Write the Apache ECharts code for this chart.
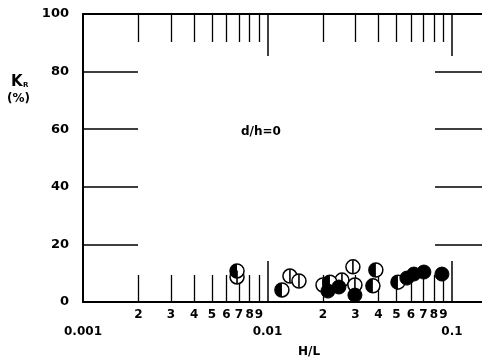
<!DOCTYPE html>
<html><head><meta charset="utf-8">
<script src="https://cdn.jsdelivr.net/npm/echarts@6/dist/echarts.min.js"></script>
<style>html,body{margin:0;padding:0;background:#fff}#c{width:482px;height:364px}</style>
</head><body><div id="c"></div>
<script>
// ---- data ----
const xMin = 0.001, xMax = 0.1456;
const xMajorTicks = [0.01, 0.1];
const xMajorLabels = [0.001, 0.01, 0.1];
const xMinorTicks = [0.002,0.003,0.004,0.005,0.006,0.007,0.008,0.009,0.02,0.03,0.04,0.05,0.06,0.07,0.08,0.09];
const yTicks = [0, 20, 40, 60, 80, 100];

// circles with a vertical bar
const openX = [0.00684, 0.01324, 0.01482, 0.0200, 0.02534, 0.02906, 0.0298];
const openY = [8.7, 9.0, 7.3, 5.9, 7.6, 12.2, 5.9];
// half-filled circles
const halfX = [0.00684, 0.01198, 0.02182, 0.0373, 0.0387, 0.0510];
const halfY = [10.8, 4.2, 6.9, 5.6, 11.1, 6.9];
// filled circles
const filledX = [0.02128, 0.0244, 0.0298, 0.0570, 0.0622, 0.0705, 0.0883];
const filledY = [3.8, 5.2, 2.4, 8.3, 9.7, 10.4, 9.7];

const zip = (a, b) => a.map((v, i) => [v, b[i]]);
const FONT = 'DejaVu Sans';
const lead = v => { const e = Math.floor(Math.log10(v) + 1e-9); return String(Math.round(v / Math.pow(10, e))); };

const baseX = (extra) => Object.assign({
  type: 'log', logBase: 10, min: xMin, max: xMax, gridIndex: 0,
  splitLine: { show: false }, minorTick: { show: false },
  axisLine: { show: false, onZero: false },
  axisLabel: { show: false },
  axisTick: { show: false }
}, extra);

const chart = echarts.init(document.getElementById('c'), null, { renderer: 'canvas' });
chart.setOption({
  backgroundColor: '#fff',
  animation: false,
  grid: { left: 83, right: 0, top: 14, bottom: 62, containLabel: false },
  xAxis: [
    baseX({ position: 'bottom',
      axisLine: { show: true, onZero: false, lineStyle: { color: '#000', width: 2 } },
      axisTick: { show: true, inside: true, length: 41, customValues: xMajorTicks, lineStyle: { color: '#000', width: 1.5 } },
      axisLabel: { show: true, customValues: xMajorLabels, margin: 24, color: '#000', fontFamily: FONT, fontWeight: 'bold', fontSize: 12,
        formatter: v => String(+(+v).toPrecision(3)) } }),
    baseX({ position: 'bottom',
      axisTick: { show: true, inside: true, length: 27, customValues: xMinorTicks, lineStyle: { color: '#000', width: 1.3 } },
      axisLabel: { show: true, customValues: xMinorTicks, margin: 7, color: '#000', fontFamily: FONT, fontWeight: 'bold', fontSize: 12,
        formatter: v => lead(+v) } }),
    baseX({ position: 'top',
      axisLine: { show: true, onZero: false, lineStyle: { color: '#000', width: 2 } },
      axisTick: { show: true, inside: true, length: 42, customValues: xMajorTicks, lineStyle: { color: '#000', width: 1.5 } } }),
    baseX({ position: 'top',
      axisTick: { show: true, inside: true, length: 28, customValues: xMinorTicks, lineStyle: { color: '#000', width: 1.3 } } })
  ],
  yAxis: [
    { type: 'value', min: 0, max: 100, interval: 20, position: 'left',
      splitLine: { show: false },
      axisLine: { show: true, onZero: false, lineStyle: { color: '#000', width: 2 } },
      axisTick: { show: true, inside: true, length: 55, customValues: yTicks, lineStyle: { color: '#000', width: 1.5 } },
      axisLabel: { show: true, margin: 14, color: '#000', fontFamily: FONT, fontWeight: 'bold', fontSize: 13 } },
    { type: 'value', min: 0, max: 100, interval: 20, position: 'right',
      splitLine: { show: false },
      axisLine: { show: false },
      axisTick: { show: true, inside: true, length: 47, lineStyle: { color: '#000', width: 1.5 } },
      axisLabel: { show: false } }
  ],
  graphic: [
    { type: 'text', left: 11, top: 75, style: { text: 'K', font: 'bold 15px ' + FONT, fill: '#000' } },
    { type: 'text', left: 23, top: 82, style: { text: 'R', font: 'bold 7px ' + FONT, fill: '#000' } },
    { type: 'text', left: 7, top: 93, style: { text: '(%)', font: 'bold 12px ' + FONT, fill: '#000' } },
    { type: 'text', left: 241, top: 126, style: { text: 'd/h=0', font: 'bold 12px ' + FONT, fill: '#000' } },
    { type: 'text', left: 298, top: 346, style: { text: 'H/L', font: 'bold 12px ' + FONT, fill: '#000' } }
  ],
  series: [
    { type: 'scatter', xAxisIndex: 0, yAxisIndex: 0, data: zip(openX, openY), symbol: 'circle', symbolSize: 14,
      itemStyle: { color: '#fff', borderColor: '#000', borderWidth: 1.5, opacity: 1 }, z: 3 },
    { type: 'scatter', xAxisIndex: 0, yAxisIndex: 0, data: zip(openX, openY), symbol: 'rect', symbolSize: [1.6, 13],
      itemStyle: { color: '#000', opacity: 1 }, z: 4 },
    { type: 'scatter', xAxisIndex: 0, yAxisIndex: 0, data: zip(halfX, halfY), symbol: 'circle', symbolSize: 14,
      itemStyle: { color: '#fff', borderColor: '#000', borderWidth: 1.5, opacity: 1 }, z: 3 },
    { type: 'scatter', xAxisIndex: 0, yAxisIndex: 0, data: zip(halfX, halfY), symbol: 'path://M50,0A50,50,0,0,0,50,100Z',
      symbolSize: [7, 14], symbolOffset: [-3.5, 0], symbolKeepAspect: false,
      itemStyle: { color: '#000', opacity: 1 }, z: 4 },
    { type: 'scatter', xAxisIndex: 0, yAxisIndex: 0, data: zip(filledX, filledY), symbol: 'circle', symbolSize: 14,
      itemStyle: { color: '#000', borderColor: '#000', borderWidth: 1, opacity: 1 }, z: 5 }
  ]
});
</script>
</body></html>
